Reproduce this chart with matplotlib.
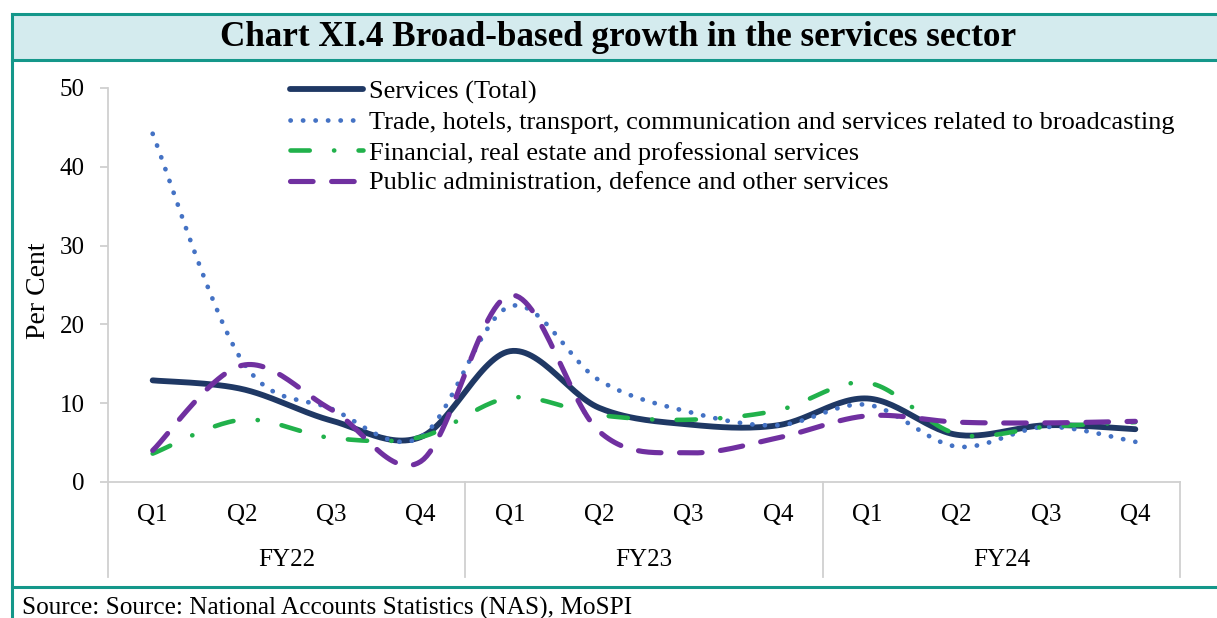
import numpy as np
import matplotlib
matplotlib.use("Agg")
import matplotlib.pyplot as plt
from matplotlib.lines import Line2D
from matplotlib.patches import Rectangle

# quarterly growth, per cent
quarters = ["Q1", "Q2", "Q3", "Q4"] * 3
years = ["FY22", "FY23", "FY24"]

services_total = [12.9, 11.8, 7.8, 5.7, 16.6, 9.4, 7.3, 7.2, 10.6, 6.0, 7.2, 6.7]
trade_hotels = [44.2, 15.4, 9.3, 5.7, 22.3, 12.9, 8.9, 7.2, 9.8, 4.5, 7.0, 5.1]
financial = [3.6, 7.9, 5.6, 5.7, 10.7, 8.5, 7.9, 9.1, 12.6, 6.1, 7.0, 7.6]
public_admin = [4.0, 14.8, 9.2, 2.6, 23.7, 6.4, 3.7, 5.6, 8.4, 7.6, 7.5, 7.7]

labels = ["Services (Total)",
          "Trade, hotels, transport, communication and services related to broadcasting",
          "Financial, real estate and professional services",
          "Public administration, defence and other services"]

teal = "#14978a"
W, H = 1217, 618


def smooth(x, y, n=30):
    # bezier smoothing like the spreadsheet "smoothed line" option
    x = np.asarray(x, float)
    y = np.asarray(y, float)
    px = np.concatenate([[x[0]], x, [x[-1]]])
    py = np.concatenate([[y[0]], y, [y[-1]]])
    xs, ys = [], []
    t = np.linspace(0, 1, n)
    for i in range(1, len(px) - 2):
        p0 = np.array([px[i], py[i]])
        p3 = np.array([px[i + 1], py[i + 1]])
        c1 = p0 + (np.array([px[i + 1], py[i + 1]]) - np.array([px[i - 1], py[i - 1]])) / 6
        c2 = p3 - (np.array([px[i + 2], py[i + 2]]) - np.array([px[i], py[i]])) / 6
        b = ((1 - t) ** 3)[:, None] * p0 + (3 * (1 - t) ** 2 * t)[:, None] * c1 \
            + (3 * (1 - t) * t ** 2)[:, None] * c2 + (t ** 3)[:, None] * p3
        xs.append(b[:, 0])
        ys.append(b[:, 1])
    return np.concatenate(xs), np.concatenate(ys)


plt.rcParams["font.family"] = "Liberation Serif"
fig = plt.figure(figsize=(W / 100, H / 100), dpi=100)

# frame and title band
fig.patches.append(Rectangle((12 / W, 1 - 60 / H), 1.2, 46 / H, transform=fig.transFigure,
                             facecolor="#d4ebee", edgecolor="none", zorder=0))
for yy in (14, 60, 587):
    fig.add_artist(Line2D([12 / W, 1.0], [1 - yy / H, 1 - yy / H], color=teal, lw=2.2))
fig.add_artist(Line2D([12 / W, 12 / W], [1 - 14 / H, 0], color=teal, lw=2.2))

fig.text(618 / W, 1 - 38 / H, "Chart XI.4 Broad-based growth in the services sector",
         ha="center", va="center", fontsize=25.3, fontweight="bold")
fig.text(22 / W, 1 - 608 / H, "Source: Source: National Accounts Statistics (NAS), MoSPI",
         ha="left", va="center", fontsize=18.2)

ax = fig.add_axes([108 / W, 1 - 482 / H, (1180 - 108) / W, (482 - 88) / H])
x = np.arange(12) + 0.5

styles = [
    dict(color="#1f3864", lw=4.2, solid_capstyle="round"),
    dict(color="#4472c4", lw=3.4, dashes=(0.05, 2.6), dash_capstyle="round"),
    dict(color="#21b14b", lw=3.3, dashes=(4.2, 5.3, 0.05, 5.3), dash_capstyle="round"),
    dict(color="#7030a0", lw=3.7, dashes=(4.4, 3.6), dash_capstyle="round"),
]
series = [services_total, trade_hotels, financial, public_admin]
handles = []
for s, st, lab in zip(series, styles, labels):
    sx, sy = smooth(x, s)
    h, = ax.plot(sx, sy, label=lab, **st)
    handles.append(h)

ax.set_xlim(0, 12)
ax.set_ylim(0, 50)
ax.set_yticks(range(0, 51, 10))
ax.set_xticks([])
for side in ("top", "right"):
    ax.spines[side].set_visible(False)
for side in ("left", "bottom"):
    ax.spines[side].set_color("#d0d0d0")
    ax.spines[side].set_linewidth(1.3)
ax.tick_params(axis="y", length=6, width=1.3, color="#d0d0d0", labelsize=18, pad=11)
ax.set_ylabel("Per Cent", fontsize=20)
ax.yaxis.set_label_coords(-(108 - 51) / (1180 - 108), 0.485)

# category axis: quarters, years and separators
for i, q in enumerate(quarters):
    ax.text(i + 0.5, -4.2, q, ha="center", va="center", fontsize=18)
for j, yr in enumerate(years):
    ax.text(j * 4 + 2, -9.9, yr, ha="center", va="center", fontsize=18)
for k in range(4):
    ax.plot([k * 4, k * 4], [0, -12.0], color="#d0d0d0", lw=1.3, clip_on=False)

ax.legend(handles=handles, loc="upper left", bbox_to_anchor=(290 / W, 1 - 80 / H),
          bbox_transform=fig.transFigure, frameon=False, fontsize=19,
          handlelength=2.75, handletextpad=0.25, labelspacing=0.26, borderpad=0,
          borderaxespad=0)

fig.savefig("out.png", dpi=100)
